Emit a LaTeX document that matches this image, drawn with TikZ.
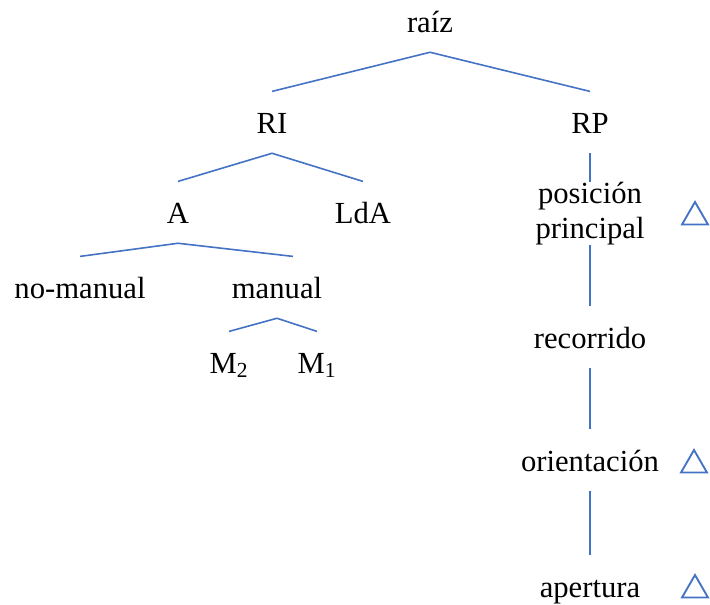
\documentclass[tikz,border=0pt]{standalone}
\usepackage{fontspec}
\setmainfont{Liberation Serif}
\usetikzlibrary{shapes.geometric}
\definecolor{azul}{RGB}{68,114,196}

\begin{document}
\begin{tikzpicture}[x=0.75pt,y=-0.75pt,
    etiq/.style={anchor=base,font=\fontsize{23}{26.25}\selectfont,
        inner xsep=0pt,inner ysep=15pt,text height=16pt,text depth=0pt},
    etiqdos/.style={anchor=north,align=center,inner sep=0pt,
        font=\fontsize{23}{26.25}\selectfont},
    rama/.style={draw=azul,line width=1.2pt},
    marca/.style={draw=azul,line width=1.4pt,regular polygon,
        regular polygon sides=3,minimum size=22.5pt,inner sep=0pt}]

\useasboundingbox (0,0) rectangle (710,604);

% Root
\node[etiq] (raiz) at (430,32) {raíz};

% First level
\node[etiq] (RI) at (272,133) {RI};
\node[etiq] (RP) at (590,133) {RP};

% Left branch
\node[etiq] (A) at (178,223) {A};
\node[etiq] (LdA) at (363,223) {LdA};
\node[etiq] (nomanual) at (80,298) {no-manual};
\node[etiq] (manual) at (277,298) {manual};
\node[etiq] (M2) at (229,373) {M\textsubscript{2}};
\node[etiq] (M1) at (317,373) {M\textsubscript{1}};

% Right branch (chain)
\node[etiqdos] (posicion) at (590,182) {posición\\principal};
\node[etiq] (recorrido) at (590,348) {recorrido};
\node[etiq] (orientacion) at (590,471) {orientación};
\node[etiq] (apertura) at (590,597) {apertura};

% Triangles
\node[marca] (t1) at (695,217) {};
\node[marca] (t2) at (694,465) {};
\node[marca] (t3) at (695,590) {};

% Branches
\draw[rama] (RI.north) -- (raiz.south) -- (RP.north);
\draw[rama] (A.north) -- (RI.south) -- (LdA.north);
\draw[rama] (nomanual.north) -- (A.south) -- ([xshift=12pt]manual.north);
\draw[rama] (M2.north) -- (manual.south) -- (M1.north);
\draw[rama] (RP.south) -- (posicion.north);
\draw[rama] (posicion.south) -- (recorrido.north);
\draw[rama] (recorrido.south) -- (orientacion.north);
\draw[rama] (orientacion.south) -- (apertura.north);

\end{tikzpicture}
\end{document}
